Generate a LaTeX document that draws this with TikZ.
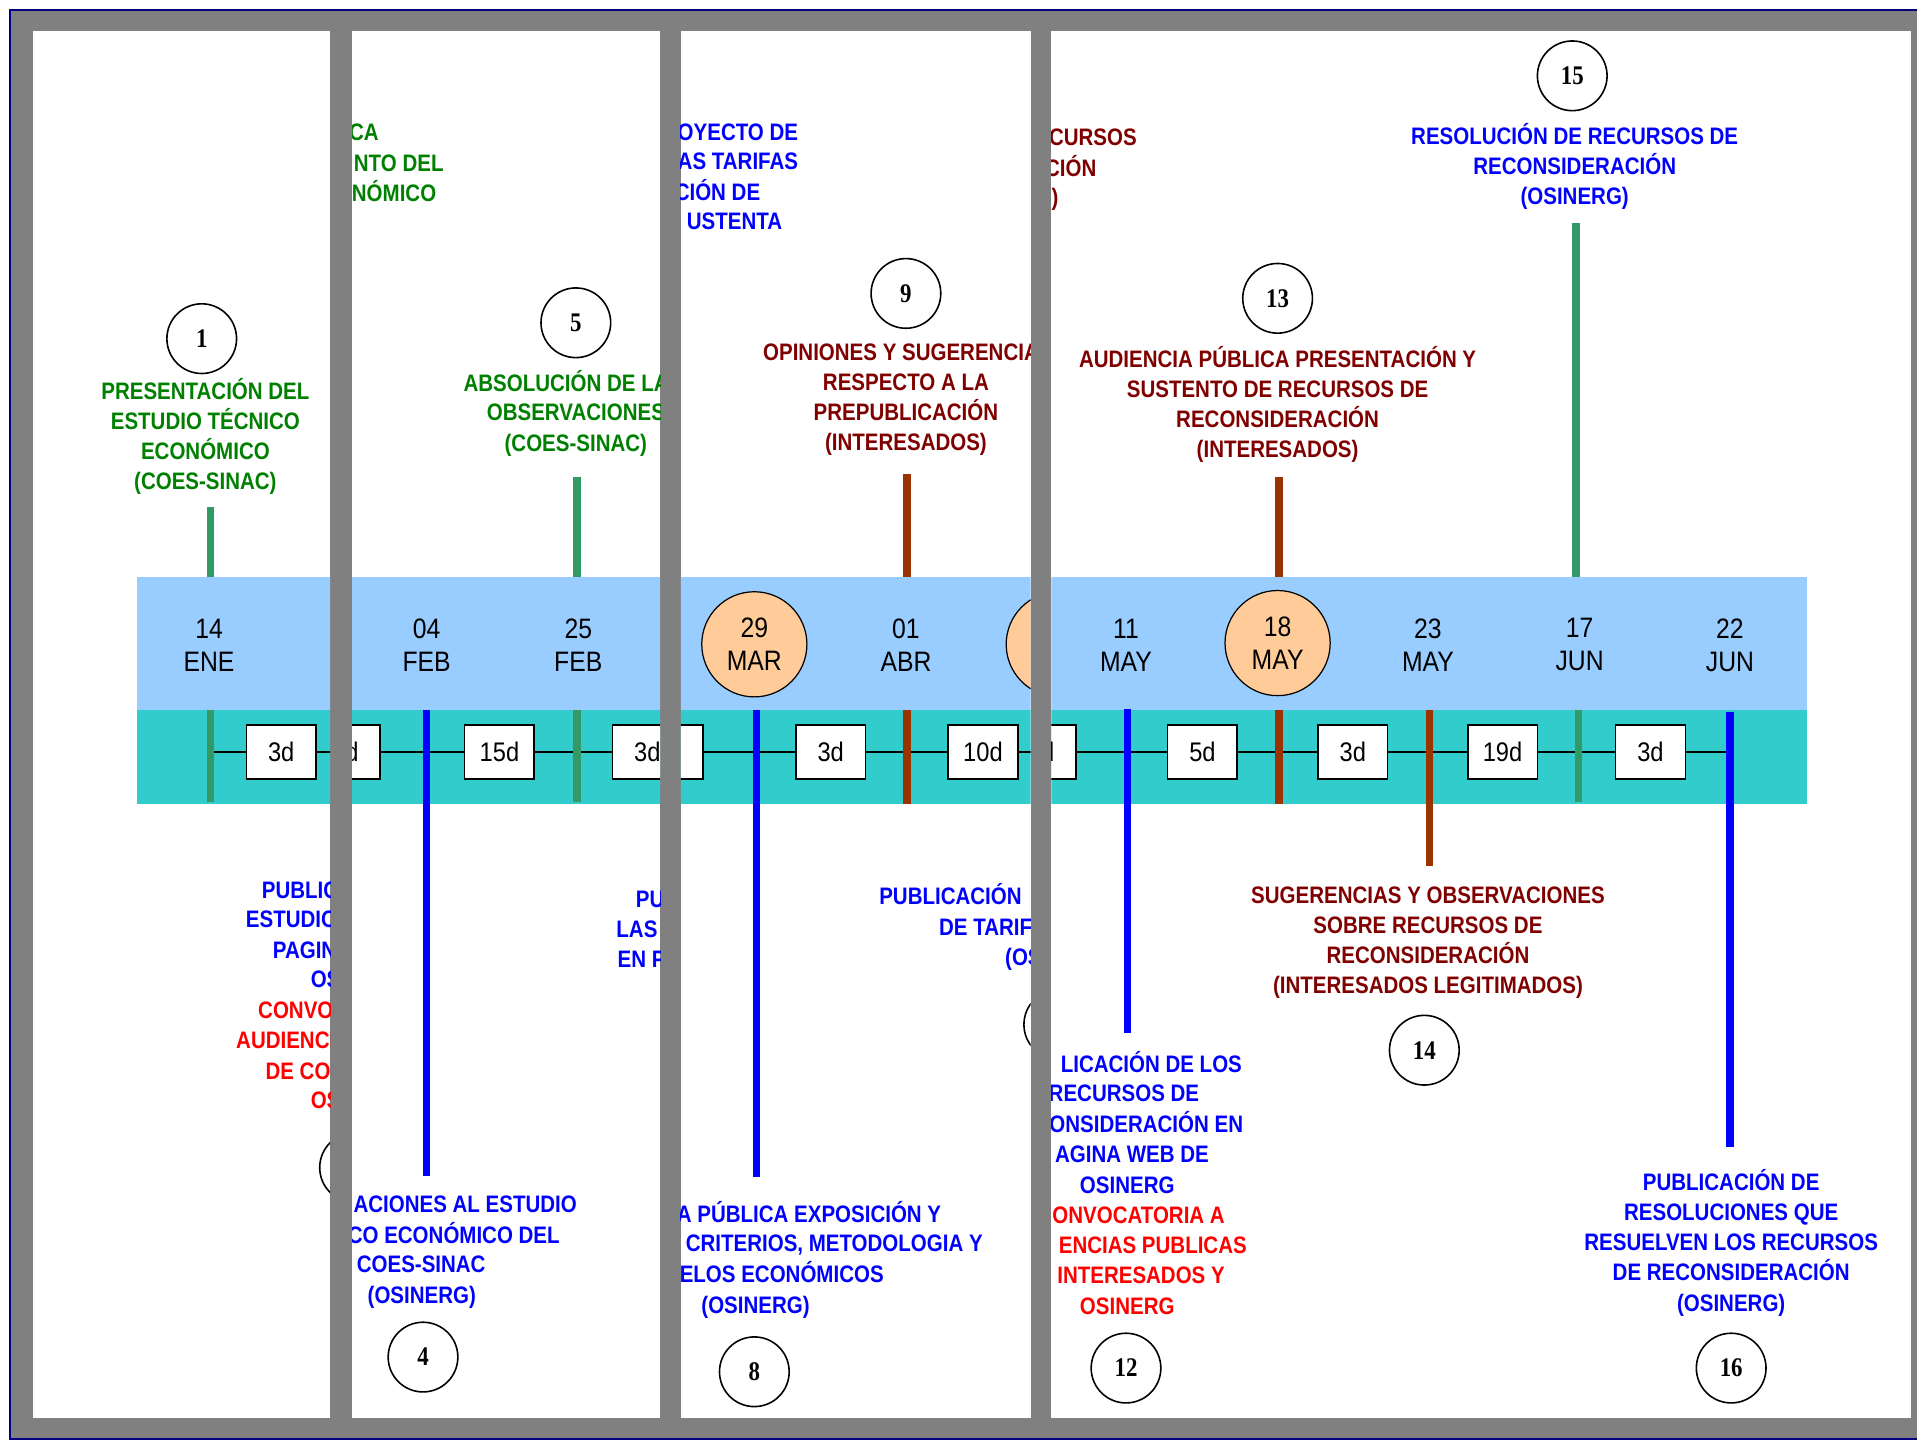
\documentclass[tikz,border=0pt]{standalone}
\usepackage{fontspec}
\setmainfont{Liberation Sans}
\newfontfamily\lblfont[FakeStretch=0.86]{Liberation Sans}
\newfontfamily\fechafont[FakeStretch=0.88]{Liberation Sans}
\newfontfamily\numfont[FakeStretch=0.85]{Liberation Serif}

\definecolor{verde}{RGB}{0,128,0}
\definecolor{verdelinea}{RGB}{51,153,102}
\definecolor{azul}{RGB}{0,0,255}
\definecolor{granate}{RGB}{128,0,0}
\definecolor{ladrillo}{RGB}{153,51,0}
\definecolor{rojo}{RGB}{255,0,0}
\definecolor{celeste}{RGB}{153,204,255}
\definecolor{turquesa}{RGB}{51,204,204}
\definecolor{durazno}{RGB}{255,204,153}
\definecolor{marco}{RGB}{128,128,128}
\definecolor{borde}{RGB}{0,0,128}

\begin{document}
\begin{tikzpicture}[
        x=1pt, y=-1pt,
        lbl/.style = {font=\lblfont\bfseries\fontsize{19.5}{24.6}\selectfont, align=center, inner sep=0pt},
        frag/.style = {lbl, text height=14pt, text depth=0pt},
        paso/.style = {circle, draw, line width=1.3pt, minimum size=57pt, inner sep=0pt, font=\numfont\bfseries\fontsize{22}{22}\selectfont},
        fecha/.style = {font=\fechafont\fontsize{23}{27}\selectfont, align=center, inner sep=0pt},
        hito/.style = {fecha, circle, draw, fill=durazno, line width=1pt, minimum size=86pt},
        plazo/.style = {draw, fill=white, line width=1.3pt, minimum width=57pt, minimum height=44pt, inner sep=0pt, font=\fechafont\fontsize{22}{22}\selectfont},
        vverde/.style = {verdelinea, line width=6pt},
        vazul/.style = {azul, line width=6pt},
        vladrillo/.style = {ladrillo, line width=6pt}
    ]
 \useasboundingbox (0,0) rectangle (1568,1179);
 \fill[white] (0,0) rectangle (1568,1179);
 \fill[marco] (8,8) rectangle (1568,1177);
 \draw[borde, line width=2pt] (1568,8) -- (8,8) -- (8,1177) -- (1568,1177);

 % paneles y franja de fechas
 \foreach \izq/\der in {27/270, 288/540, 557/843, 860/1563} {
     \fill[white] (\izq,25) rectangle (\der,1160);
     \begin{scope}
         \clip (\izq,25) rectangle (\der,1160);
         \fill[celeste] (112,472) rectangle (1478,581);
         \fill[turquesa] (112,581) rectangle (1478,658);
         \draw[line width=1.3pt] (172,615) -- (1415,615);
     \end{scope}
 }

 % panel 1
 \begin{scope}
     \clip (27,25) rectangle (270,1160);
     \node[paso] (p1) at (165,277) {1};
     \node[lbl, verde] (t1) at (168,357) {PRESENTACIÓN DEL\\ESTUDIO TÉCNICO\\ECONÓMICO\\(COES-SINAC)};
     \coordinate (a1) at (172,415);
     \coordinate (b1) at (172,472);
     \coordinate (c1) at (172,581);
     \coordinate (d1) at (172,656);
     \draw[vverde] (a1) -- (b1);
     \draw[vverde] (c1) -- (d1);
     \node[fecha] (f1) at (171,527.5) {14\\ENE};
     \node[plazo] (q1) at (230,615) {3d};
     \node[frag, azul, anchor=west] (t2a) at (214,728) {PUBLIC};
     \node[frag, azul, anchor=west] (t2b) at (201,752) {ESTUDIO};
     \node[frag, azul, anchor=west] (t2c) at (223,777) {PAGIN};
     \node[frag, azul, anchor=west] (t2d) at (254,801) {OS};
     \node[frag, rojo, anchor=west] (t2e) at (211,826) {CONVO};
     \node[frag, rojo, anchor=west] (t2f) at (193,851) {AUDIENCI};
     \node[frag, rojo, anchor=west] (t2g) at (217,876) {DE CON};
     \node[frag, rojo, anchor=west] (t2h) at (254,900) {OS};
     \node[paso] (p3) at (290,955) {};
 \end{scope}

 % panel 2
 \begin{scope}
     \clip (288,25) rectangle (540,1160);
     \node[frag, verde, anchor=east] (t3a) at (310,108) {CA};
     \node[frag, verde, anchor=east] (t3b) at (363,133) {NTO DEL};
     \node[frag, verde, anchor=east] (t3c) at (357,158) {NÓMICO};
     \node[paso] (p5) at (471,264) {5};
     \node[frag, verde, anchor=west] (t5a) at (379,313) {ABSOLUCIÓN DE LA};
     \node[frag, verde, anchor=west] (t5b) at (398,337) {OBSERVACIONES};
     \node[frag, verde] (t5c) at (471,362) {(COES-SINAC)};
     \coordinate (a5) at (472,390);
     \coordinate (b5) at (472,472);
     \coordinate (c5) at (472,581);
     \coordinate (d5) at (472,656);
     \draw[vverde] (a5) -- (b5);
     \draw[vverde] (c5) -- (d5);
     \coordinate (c4) at (349,581);
     \coordinate (d4) at (349,962);
     \draw[vazul] (c4) -- (d4);
     \node[fecha] (f2) at (349,527.5) {04\\FEB};
     \node[fecha] (f3) at (473,527.5) {25\\FEB};
     \node[plazo] (q2) at (282.5,615) {\phantom{3}d};
     \node[plazo] (q3) at (408.5,615) {15d};
     \node[plazo] (q4) at (529.5,615) {3d};
     \node[frag, azul, anchor=east] (t4a) at (472,985) {ACIONES AL ESTUDIO};
     \node[frag, azul, anchor=east] (t4b) at (458,1010) {CO ECONÓMICO DEL};
     \node[frag, azul] (t4c) at (344.5,1034) {COES-SINAC};
     \node[frag, azul] (t4d) at (345,1059) {(OSINERG)};
     \node[paso] (p4) at (346,1110) {4};
     \node[frag, azul, anchor=west] (t6a) at (520,735) {PU};
     \node[frag, azul, anchor=west] (t6b) at (504,760) {LAS};
     \node[frag, azul, anchor=west] (t6c) at (505,784) {EN P};
 \end{scope}

 % panel 3
 \begin{scope}
     \clip (557,25) rectangle (843,1160);
     \node[frag, azul, anchor=east] (t7a) at (653,108) {OYECTO DE};
     \node[frag, azul, anchor=east] (t7b) at (653,132) {AS TARIFAS};
     \node[frag, azul, anchor=east] (t7c) at (622,157) {CIÓN DE};
     \node[frag, azul, anchor=east] (t7d) at (640,181) {USTENTA};
     \node[paso] (p9) at (741,240) {9};
     \node[frag, granate, anchor=west] (t9a) at (624,288) {OPINIONES Y SUGERENCIA};
     \node[lbl, granate] (t9b) at (741,339) {RESPECTO A LA\\PREPUBLICACIÓN\\(INTERESADOS)};
     \coordinate (a9) at (742,388);
     \coordinate (b9) at (742,472);
     \coordinate (c9) at (742,581);
     \coordinate (d9) at (742,658);
     \draw[vladrillo] (a9) -- (b9);
     \draw[vladrillo] (c9) -- (d9);
     \coordinate (c8) at (619,581);
     \coordinate (d8) at (619,963);
     \draw[vazul] (c8) -- (d8);
     \node[hito] (h1) at (617,527) {29\\MAR};
     \node[fecha] (f4) at (741,527.5) {01\\ABR};
     \node[hito] (h2) at (866,527) {};
     \node[plazo] (q5) at (546.5,615) {\phantom{3}d};
     \node[plazo] (q6) at (679.5,615) {3d};
     \node[plazo] (q7) at (804,615) {10d};
     \node[frag, azul, anchor=east] (t8a) at (770,993) {A PÚBLICA EXPOSICIÓN Y};
     \node[frag, azul, anchor=east] (t8b) at (804,1017) {CRITERIOS, METODOLOGIA Y};
     \node[frag, azul, anchor=east] (t8c) at (723,1042) {ELOS ECONÓMICOS};
     \node[frag, azul] (t8d) at (618,1067) {(OSINERG)};
     \node[paso] (p8) at (617,1122) {8};
     \node[frag, azul, anchor=west] (t10a) at (719,733) {PUBLICACIÓN};
     \node[frag, azul, anchor=west] (t10b) at (768,758) {DE TARIF};
     \node[frag, azul, anchor=west] (t10c) at (822,783) {(OS};
     \node[paso] (p10) at (866,838) {};
 \end{scope}

 % panel 4
 \begin{scope}
     \clip (860,25) rectangle (1563,1160);
     \node[frag, granate, anchor=east] (t11a) at (930,112) {CURSOS};
     \node[frag, granate, anchor=east] (t11b) at (897,137) {CIÓN};
     \node[frag, granate, anchor=east] (t11c) at (866,161) {)};
     \node[paso] (p13) at (1045,244) {13};
     \node[lbl, granate] (t13) at (1045,331) {AUDIENCIA PÚBLICA PRESENTACIÓN Y\\SUSTENTO DE RECURSOS DE\\RECONSIDERACIÓN\\(INTERESADOS)};
     \coordinate (a13) at (1046,390);
     \coordinate (b13) at (1046,472);
     \coordinate (c13) at (1046,581);
     \coordinate (d13) at (1046,658);
     \draw[vladrillo] (a13) -- (b13);
     \draw[vladrillo] (c13) -- (d13);
     \node[paso] (p15) at (1286,62) {15};
     \node[lbl, azul] (t15) at (1288,136) {RESOLUCIÓN DE RECURSOS DE\\RECONSIDERACIÓN\\(OSINERG)};
     \coordinate (a15) at (1289,182);
     \coordinate (b15) at (1289,472);
     \coordinate (c15) at (1291,581);
     \coordinate (d15) at (1291,656);
     \draw[vverde] (a15) -- (b15);
     \draw[vverde] (c15) -- (d15);
     \coordinate (c12) at (922,580);
     \coordinate (d12) at (922,845);
     \draw[vazul] (c12) -- (d12);
     \coordinate (c14) at (1169,581);
     \coordinate (d14) at (1169,708);
     \draw[vladrillo] (c14) -- (d14);
     \coordinate (c16) at (1415,582);
     \coordinate (d16) at (1415,938);
     \draw[vazul] (c16) -- (d16);
     \node[fecha] (f5) at (921,527.5) {11\\MAY};
     \node[hito] (h3) at (1045,526) {18\\MAY};
     \node[fecha] (f6) at (1168,527.5) {23\\MAY};
     \node[fecha] (f7) at (1292,527.5) {17\\JUN};
     \node[fecha] (f8) at (1415,527.5) {22\\JUN};
     \node[plazo] (q8) at (851.5,615) {\phantom{3}d};
     \node[plazo] (q9) at (983.5,615) {5d};
     \node[plazo] (q10) at (1106.5,615) {3d};
     \node[plazo] (q11) at (1229,615) {19d};
     \node[plazo] (q12) at (1350,615) {3d};
     \node[frag, azul, anchor=east] (t12a) at (1016,870) {LICACIÓN DE LOS};
     \node[frag, azul, anchor=east] (t12b) at (981,894) {RECURSOS DE};
     \node[frag, azul, anchor=east] (t12c) at (1017,919) {ONSIDERACIÓN EN};
     \node[frag, azul, anchor=east] (t12d) at (989,944) {AGINA WEB DE};
     \node[frag, azul] (t12e) at (922,969) {OSINERG};
     \node[frag, rojo, anchor=east] (t12f) at (1002,994) {ONVOCATORIA A};
     \node[frag, rojo, anchor=east] (t12g) at (1020,1018) {ENCIAS PUBLICAS};
     \node[frag, rojo, anchor=east] (t12h) at (1002,1043) {INTERESADOS Y};
     \node[frag, rojo] (t12i) at (922,1068) {OSINERG};
     \node[paso] (p12) at (921,1119) {12};
     \node[lbl, granate] (t14) at (1168,771) {SUGERENCIAS Y OBSERVACIONES\\SOBRE RECURSOS DE\\RECONSIDERACIÓN\\(INTERESADOS LEGITIMADOS)};
     \node[paso] (p14) at (1165,859) {14};
     \node[lbl, azul] (t16) at (1416,1016.5) {PUBLICACIÓN DE\\RESOLUCIONES QUE\\RESUELVEN LOS RECURSOS\\DE RECONSIDERACIÓN\\(OSINERG)};
     \node[paso] (p16) at (1416,1119) {16};
 \end{scope}
\end{tikzpicture}
\end{document}
